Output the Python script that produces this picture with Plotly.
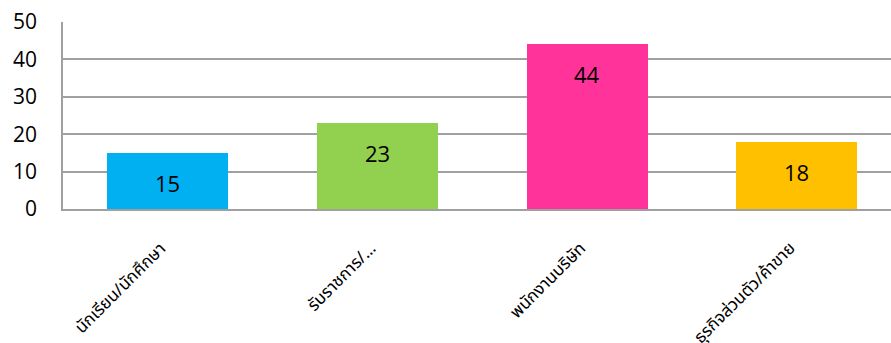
import plotly.graph_objects as go

# Occupation categories and respondent counts
categories = ["นักเรียน/นักศึกษา", "รับราชการ/…", "พนักงานบริษัท", "ธุรกิจส่วนตัว/ค้าขาย"]
counts = [15, 23, 44, 18]
bar_colors = ["#00B0F0", "#92D050", "#FF3399", "#FFC000"]
y_ticks = [0, 10, 20, 30, 40, 50]

num_font = "Open Sans, Liberation Sans, sans-serif"
thai_font = "Tahoma, Noto Sans Thai, Loma, Garuda, sans-serif"
grid_color = "#a0a0a0"

x_pos = list(range(len(categories)))

fig = go.Figure(
    go.Bar(
        x=x_pos,
        y=counts,
        width=0.577,
        marker=dict(color=bar_colors, line=dict(width=0)),
        hoverinfo="skip",
    )
)

# Value labels sit inside the top of each bar
for xi, v in zip(x_pos, counts):
    fig.add_annotation(
        x=xi, y=v, yshift=-30, text=str(v), showarrow=False,
        font=dict(family=num_font, size=22, color="#000000"),
        xanchor="center", yanchor="middle",
    )

# Slanted category labels, their upper end under each bar's centre
for xi, name in zip(x_pos, categories):
    fig.add_annotation(
        x=xi, y=0, xref="x", yref="y", text=name, showarrow=False,
        textangle=-45, xanchor="right", yanchor="top",
        xshift=8, yshift=-25,
        font=dict(family=thai_font, size=17, color="#000000"),
    )

fig.update_layout(
    width=891,
    height=343,
    margin=dict(l=63, r=0, t=22, b=134),
    paper_bgcolor="white",
    plot_bgcolor="white",
    showlegend=False,
    bargap=0,
    xaxis=dict(
        range=[-0.5, 3.45],
        tickmode="array",
        tickvals=x_pos,
        showticklabels=False,
        ticks="",
        showgrid=False,
        zeroline=False,
        showline=True,
        linecolor=grid_color,
        linewidth=1.5,
        automargin=False,
        fixedrange=True,
    ),
    yaxis=dict(
        range=[0, 50],
        tickmode="array",
        tickvals=y_ticks,
        ticktext=[str(t) for t in y_ticks],
        ticks="",
        ticklabelstandoff=20,
        tickfont=dict(family=num_font, size=21, color="#000000"),
        showgrid=True,
        gridcolor=grid_color,
        gridwidth=1.5,
        zeroline=False,
        showline=True,
        linecolor=grid_color,
        linewidth=1.5,
        automargin=False,
        fixedrange=True,
    ),
)

fig.write_html("out.html")
